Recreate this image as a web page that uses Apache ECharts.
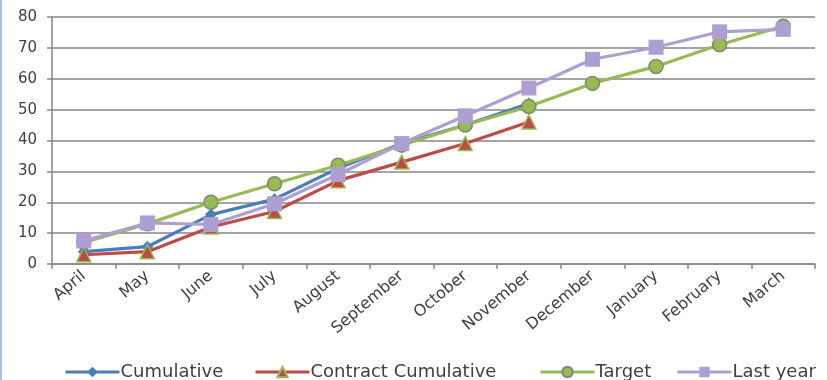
<!DOCTYPE html>
<html>
<head>
<meta charset="utf-8">
<script src="https://cdn.jsdelivr.net/npm/echarts@6/dist/echarts.min.js"></script>
<style>
  html, body { margin: 0; padding: 0; background: #fff; }
  #chart { width: 827px; height: 380px; box-sizing: border-box; border-left: 2px solid #a9c2e0; }
</style>
</head>
<body>
<div id="chart"></div>
<script>
const months = ['April', 'May', 'June', 'July', 'August', 'September', 'October', 'November', 'December', 'January', 'February', 'March'];
const cumulative = [4, 5.6, 16, 21, 31, 39, 45, 52];
const contractCumulative = [3, 4, 12, 17, 27, 33, 39, 46];
const target = [7, 13, 20, 26, 32, 38.5, 45, 51, 58.5, 64, 71, 77];
const lastYear = [7.5, 13.3, 12.8, 19.5, 29, 39, 48, 57, 66.3, 70.2, 75.2, 76];

const seriesNames = ['Cumulative', 'Contract Cumulative', 'Target', 'Last year'];
const legendLeft = [62, 252, 537, 674];

const font = 'DejaVu Sans';
const textColor = '#404040';

function lineSeries(name, data, color, symbol, size, border) {
  return {
    name: name,
    type: 'line',
    data: data,
    symbol: symbol,
    symbolSize: size,
    lineStyle: { color: color, width: 3.2 },
    itemStyle: { color: color, borderColor: border || color, borderWidth: border ? 1.5 : 0, opacity: 1 },
    emphasis: { disabled: true },
    animation: false
  };
}

const legends = seriesNames.map((name, i) => ({
  top: 363,
  left: legendLeft[i],
  padding: 0,
  itemWidth: 54,
  itemHeight: 13,
  itemGap: 0,
  lineStyle: { width: 3 },
  textStyle: { fontFamily: font, fontSize: 18, color: textColor, padding: [0, 0, 0, -4] },
  data: [name]
}));

const chart = echarts.init(document.getElementById('chart'));
chart.setOption({
  animation: false,
  grid: { left: 50, right: 12, top: 17, bottom: 116 },
  legend: legends,
  xAxis: {
    type: 'category',
    data: months,
    boundaryGap: true,
    axisLine: { lineStyle: { color: '#868686', width: 1.5 } },
    axisTick: { show: true, length: 5, lineStyle: { color: '#868686', width: 1.5 } },
    axisLabel: { rotate: 40, interval: 0, fontFamily: font, fontSize: 16, color: textColor, margin: 10 }
  },
  yAxis: {
    type: 'value',
    min: 0,
    max: 80,
    interval: 10,
    axisLine: { show: true, lineStyle: { color: '#868686', width: 1.5 } },
    axisTick: { show: true, length: 5, lineStyle: { color: '#868686', width: 1.5 } },
    axisLabel: { fontFamily: font, fontSize: 15, color: textColor, margin: 15 },
    splitLine: { lineStyle: { color: '#868686', width: 1.5 } }
  },
  series: [
    lineSeries('Cumulative', cumulative, '#4a7ebb', 'diamond', 12),
    lineSeries('Contract Cumulative', contractCumulative, '#be4b48', 'triangle', 14, '#98b954'),
    lineSeries('Target', target, '#98b954', 'circle', 14, '#7f8a72'),
    lineSeries('Last year', lastYear, '#ad9fd1', 'rect', 15)
  ]
});
</script>
</body>
</html>
